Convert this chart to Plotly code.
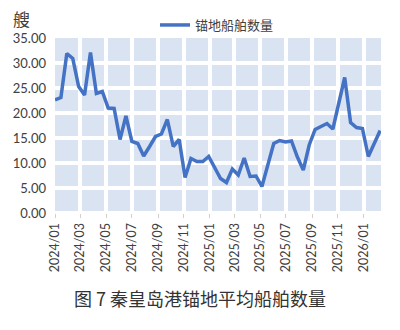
import pandas as pd
import plotly.graph_objects as go

# biweekly observation dates
dates = pd.date_range("2024-01-01", periods=56, freq="14D")
values = [22.6, 23.1, 31.9, 30.9, 25.3, 23.6, 32.1, 23.9, 24.3, 21.0,
          20.9, 14.7, 19.4, 14.3, 13.9, 11.4, 13.3, 15.3, 15.8, 18.7,
          13.3, 14.7, 7.1, 10.9, 10.3, 10.3, 11.3, 9.0, 6.9, 6.1,
          8.8, 7.6, 11.0, 7.3, 7.4, 5.3, 9.6, 13.9, 14.5, 14.2,
          14.4, 11.2, 8.6, 13.6, 16.7, 17.4, 17.9, 16.8, 22.0, 27.1,
          18.1, 17.1, 16.9, 11.3, 13.9, 16.5]
series_name = "锚地船舶数量"
tick_dates = pd.date_range("2024-01-01", "2026-01-01", freq="2MS")
y_ticks = [0, 5, 10, 15, 20, 25, 30, 35]

L, R, T, B = 55, 19, 38, 117
PW, PH = 400 - L - R, 330 - T - B

def px(xp):
    return (xp - L) / PW

def py(yp):
    return (330 - B - yp) / PH

fig = go.Figure()
fig.add_trace(go.Scatter(
    x=dates, y=values, mode="lines", name=series_name,
    line=dict(color="#4472C4", width=3.5),
))

fig.update_layout(
    width=400, height=330,
    margin=dict(l=L, r=R, t=T, b=B, autoexpand=False),
    paper_bgcolor="white",
    plot_bgcolor="#DAE3F1",
    font=dict(family="Lato, Liberation Sans, sans-serif", size=13, color="#404040"),
    showlegend=True,
    legend=dict(orientation="h", x=px(155), xanchor="left", y=py(10), yanchor="top",
                font=dict(family="Noto Sans CJK SC", size=13, color="#404040"),
                bgcolor="rgba(0,0,0,0)"),
    xaxis=dict(
        type="date",
        range=[dates[0], dates[-1] + pd.Timedelta(days=2)],
        tickvals=list(tick_dates),
        tickformat="%Y/%m",
        tickangle=-90,
        tickfont=dict(size=12.5, color="#404040"),
        showgrid=True, gridcolor="white", gridwidth=4,
        ticks="outside", ticklen=4, tickcolor="#D0D0D0",
        showline=False, zeroline=False,
    ),
    yaxis=dict(
        range=[0, 35],
        tickvals=y_ticks,
        tickformat=".2f",
        tickfont=dict(size=13, color="#404040"),
        showgrid=True, gridcolor="white", gridwidth=4,
        zeroline=True, zerolinecolor="white", zerolinewidth=4,
        showline=False, ticks="", ticklabelstandoff=8,
    ),
    annotations=[
        dict(text="艘", x=px(11), y=py(4), xref="paper", yref="paper", showarrow=False,
             xanchor="left", yanchor="top",
             font=dict(family="Noto Sans CJK SC", size=17, color="#404040")),
        dict(text="图 7 秦皇岛港锚地平均船舶数量", x=px(200), y=py(298), xref="paper", yref="paper",
             showarrow=False, xanchor="center", yanchor="middle",
             font=dict(family="Noto Sans CJK SC", size=18, color="#333333")),
    ],
)

fig.write_html("out.html")
